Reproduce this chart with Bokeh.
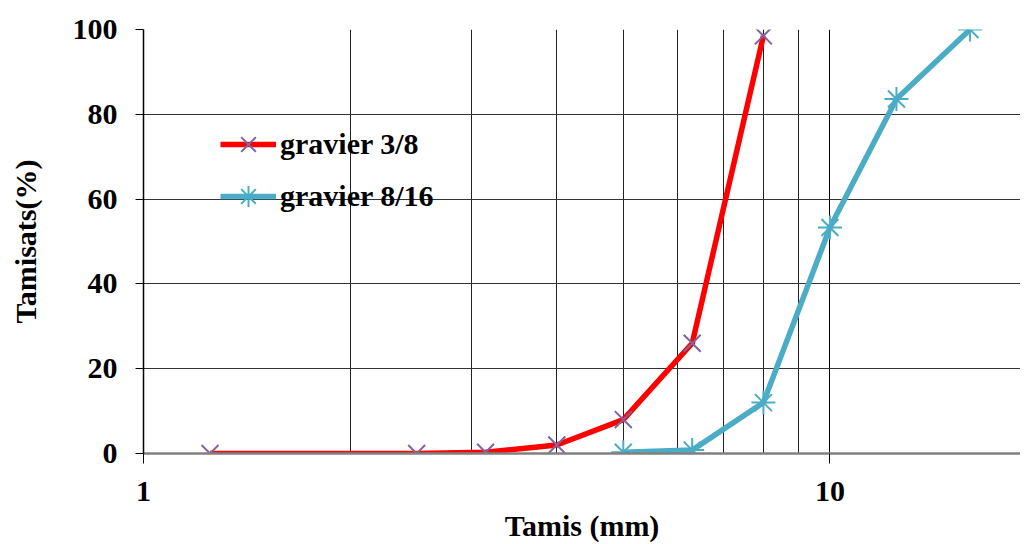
from bokeh.plotting import figure
from bokeh.models import (Range1d, FixedTicker, NumeralTickFormatter, Legend, LegendItem)
from bokeh.embed import file_html
from bokeh.resources import INLINE

# Data (sieve sizes in mm, passing %)
sieves_38 = [1.25, 2.5, 3.15, 4, 5, 6.3, 8]
passing_38 = [0, 0, 0.3, 2, 8, 26, 98.5]
sieves_816 = [5, 6.3, 8, 10, 12.5, 16]
passing_816 = [0.3, 0.8, 12, 53.3, 83.6, 100]
x_major_ticks = [1, 10]
x_minor_ticks = [2, 3, 4, 5, 6, 7, 8, 9]
y_ticks = [0, 20, 40, 60, 80, 100]
series_names = ["gravier 3/8", "gravier 8/16"]

FONT = "Liberation Serif"
RED = "#FF0000"
PURPLE = "#8064A2"
CYAN = "#4BACC6"

p = figure(width=1020, height=544, x_axis_type="log",
           x_range=Range1d(1, 18.95), y_range=Range1d(0, 100),
           output_backend="svg", toolbar_location=None,
           min_border_left=143, min_border_top=29, min_border_bottom=90,
           min_border_right=0)
p.outline_line_color = None
p.background_fill_color = "white"
p.border_fill_color = "white"

# Axes
p.xaxis.ticker = FixedTicker(ticks=x_major_ticks, minor_ticks=x_minor_ticks)
p.xaxis.formatter = NumeralTickFormatter(format="0")
p.yaxis.ticker = FixedTicker(ticks=y_ticks)
for ax in (p.xaxis[0], p.yaxis[0]):
    ax.major_label_text_font = FONT
    ax.major_label_text_font_style = "bold"
    ax.major_label_text_font_size = "30px"
    ax.major_label_text_color = "black"
    ax.axis_label_text_font = FONT
    ax.axis_label_text_font_style = "bold"
    ax.axis_label_text_font_size = "30px"
    ax.axis_label_text_color = "black"
    ax.minor_tick_line_color = None
    ax.major_tick_in = 0
    ax.major_tick_line_color = "black"

p.xaxis.axis_label = "Tamis (mm)"
p.yaxis.axis_label = "Tamisats(%)"
p.xaxis.axis_line_color = "#808080"
p.xaxis.axis_line_width = 2.5
p.xaxis.major_tick_out = 10
p.xaxis.major_label_standoff = 18
p.xaxis.axis_label_standoff = 5
p.yaxis.axis_line_color = "black"
p.yaxis.axis_line_width = 1.5
p.yaxis.major_tick_out = 8
p.yaxis.major_label_standoff = 18
p.yaxis.axis_label_standoff = 28

# Grids
p.xgrid.grid_line_color = "black"
p.xgrid.grid_line_width = 1
p.xgrid.minor_grid_line_color = "#222222"
p.xgrid.minor_grid_line_width = 1
p.ygrid.grid_line_color = "#333333"
p.ygrid.grid_line_width = 1.2

# Series
l1 = p.line(sieves_38, passing_38, line_color=RED, line_width=5.5)
m1 = p.scatter(sieves_38, passing_38, marker="x", size=24,
               line_color=PURPLE, line_width=2)
l2 = p.line(sieves_816, passing_816, line_color=CYAN, line_width=5.5)
m2 = p.scatter(sieves_816, passing_816, marker="asterisk", size=24,
               line_color=CYAN, line_width=2)

legend = Legend(items=[LegendItem(label=series_names[0], renderers=[l1, m1]),
                       LegendItem(label=series_names[1], renderers=[l2, m2])],
                location=(77, 231), padding=0, margin=0, spacing=0,
                glyph_width=56, glyph_height=52, label_height=52,
                label_standoff=4,
                label_text_font=FONT, label_text_font_style="bold",
                label_text_font_size="30px", label_text_color="black",
                background_fill_alpha=0, border_line_color=None)
p.add_layout(legend, "center")

open("out.html", "w").write(file_html(p, INLINE))
